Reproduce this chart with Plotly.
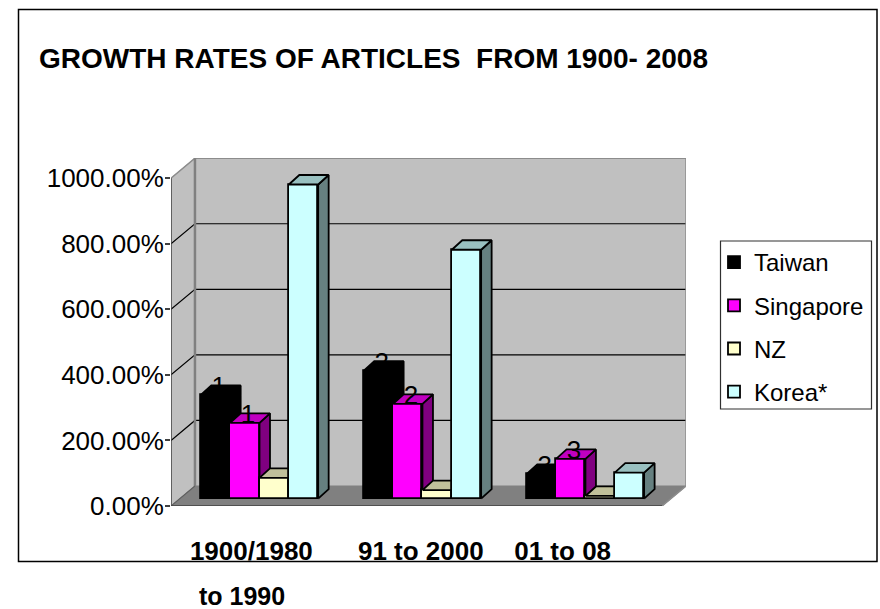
import plotly.graph_objects as go

# Chart content
TITLE = "GROWTH RATES OF ARTICLES\u00a0 FROM 1900- 2008"
SERIES = ["Taiwan", "Singapore", "NZ", "Korea*"]
PERIODS = [0, 1, 2]
TAIWAN = [316, 390, 75]
SINGAPORE = [231, 289, 121]
NZ = [63, 26, 8]
KOREA = [958, 759, 79]
TAIWAN_LABELS = ["1", "2", "3"]
SINGAPORE_LABELS = ["1", "2", "3"]
PERIOD_LABELS = ["1900/1980", "91 to 2000", "01 to 08"]
PERIOD_LABEL_SHIFT = [-0.05, -0.01, -0.14]
Y_TICKS = [0, 200, 400, 600, 800, 1000]
Y_TICK_LABELS = ["0.00%", "200.00%", "400.00%", "600.00%", "800.00%", "1000.00%"]

# Pseudo-3D geometry, in axis units
X_MIN, X_MAX = -0.543, 2.617
Y_MAX = 1061.5
WALL_DX, WALL_DY = 0.147, 61.0
BAR_DX, BAR_DY = 0.0644, 29.0
BAR_LIFT = 22.6
BAR_W = 0.18
LABEL_DROP = 21

FACES = [
    ("#000000", "#000000", "#000000"),
    ("#FF00FF", "#800080", "#C000C0"),
    ("#FFFFCC", "#808066", "#C0C09A"),
    ("#CCFFFF", "#668080", "#99C0C0"),
]
VALUES = [TAIWAN, SINGAPORE, NZ, KOREA]
FONT = "Liberation Sans, Arial, sans-serif"

W, H = 880, 609
# The right margin stays at zero so the legend never pushes the plot area;
# the axes only use part of the domain instead.
L, R, T, B = 171, 0, 158, 103
AXIS_W = 515


def px(v):
    return (v - L) / (W - L - R)


def py(v):
    return (H - B - v) / (H - T - B)


fig = go.Figure()


def poly(xs, ys, fill, line=None, lw=1, yaxis="y"):
    fig.add_trace(go.Scatter(
        x=xs, y=ys, mode="lines", fill="toself", fillcolor=fill,
        line=dict(color=line or fill, width=lw), yaxis=yaxis,
        showlegend=False, hoverinfo="skip", cliponaxis=False,
    ))


def path(xs, ys, color, lw):
    fig.add_trace(go.Scatter(
        x=xs, y=ys, mode="lines", line=dict(color=color, width=lw),
        showlegend=False, hoverinfo="skip", cliponaxis=False,
    ))


back_l = X_MIN + WALL_DX
top = 1000 + WALL_DY

# Room: side wall, back wall, floor
poly([X_MIN, back_l, back_l, X_MIN, X_MIN], [0, WALL_DY, top, 1000, 0], "#C0C0C0")
poly([back_l, X_MAX, X_MAX, back_l, back_l], [WALL_DY, WALL_DY, top, top, WALL_DY], "#C0C0C0")
poly([X_MIN, back_l, X_MAX, X_MAX - WALL_DX, X_MIN], [0, WALL_DY, WALL_DY, 0, 0], "#808080")

# Gridlines run across both walls
for v in Y_TICKS[1:-1]:
    path([X_MIN, back_l, X_MAX], [v, v + WALL_DY, v + WALL_DY], "#000000", 1.2)

# Wall edges and the front spines
path([X_MIN, back_l, X_MAX, X_MAX, X_MAX - WALL_DX], [1000, top, top, WALL_DY, 0], "#8C8C8C", 1.5)
path([back_l, back_l], [WALL_DY, top], "#808080", 2.5)
path([X_MIN, X_MIN], [0, 1000], "#404040", 1.5)
path([X_MIN, back_l], [0, WALL_DY], "#606060", 1.2)
path([X_MIN, X_MAX - WALL_DX], [0, 0], "#404040", 1.5)

# One overlaid y-axis per series keeps the painter's order of the bars
for i, (name, vals, (front, side, roof)) in enumerate(zip(SERIES, VALUES, FACES)):
    ya = "y%d" % (i + 2)
    offset = (i - 1.5) * BAR_W
    xs = [p + offset for p in PERIODS]
    fig.add_trace(go.Bar(
        x=xs, y=vals, base=BAR_LIFT, width=BAR_W, name=name, yaxis=ya,
        marker=dict(color=front, line=dict(color="#000000", width=1.8)),
        legendgroup=name, hoverinfo="skip", cliponaxis=False,
    ))
    for x, v in zip(xs, vals):
        xl, xr = x - BAR_W / 2, x + BAR_W / 2
        yt = v + BAR_LIFT
        poly([xr, xr + BAR_DX, xr + BAR_DX, xr, xr],
             [BAR_LIFT, BAR_LIFT + BAR_DY, yt + BAR_DY, yt, BAR_LIFT],
             side, "#000000", 1.8, ya)
        poly([xl, xl + BAR_DX, xr + BAR_DX, xr, xl],
             [yt, yt + BAR_DY, yt + BAR_DY, yt, yt],
             roof, "#000000", 1.8, ya)
    if i < 2:
        labels = TAIWAN_LABELS if i == 0 else SINGAPORE_LABELS
        fig.add_trace(go.Scatter(
            x=[x + 0.02 for x in xs], y=[v + BAR_LIFT - LABEL_DROP for v in vals],
            mode="text", text=labels, textposition="top center",
            textfont=dict(family=FONT, size=26, color="#000000"),
            yaxis=ya, showlegend=False, hoverinfo="skip", cliponaxis=False,
        ))

overlay = dict(overlaying="y", range=[0, Y_MAX], visible=False, fixedrange=True)

fig.update_layout(
    width=W, height=H, autosize=False,
    margin=dict(l=L, r=R, t=T, b=B, pad=0),
    paper_bgcolor="white", plot_bgcolor="white",
    barmode="overlay", bargap=0,
    font=dict(family=FONT, color="#000000"),
    title=dict(
        text="<b>%s</b>" % TITLE, x=39 / W, xanchor="left", xref="container",
        y=1 - 58 / H, yanchor="middle", yref="container",
        font=dict(family=FONT, size=28, color="#000000"),
    ),
    xaxis=dict(
        domain=[0, AXIS_W / (W - L - R)],
        range=[X_MIN, X_MAX], showgrid=False, zeroline=False, showline=False,
        tickmode="array",
        tickvals=[p + s for p, s in zip(PERIODS, PERIOD_LABEL_SHIFT)],
        ticktext=["<b>%s</b>" % t for t in PERIOD_LABELS],
        ticks="", ticklabelstandoff=27, tickangle=0,
        tickfont=dict(family=FONT, size=26, color="#000000"),
    ),
    yaxis=dict(
        range=[0, Y_MAX], showgrid=False, zeroline=False, showline=False,
        tickmode="array", tickvals=Y_TICKS, ticktext=Y_TICK_LABELS,
        ticks="outside", ticklen=5, tickwidth=1.5, tickcolor="#404040",
        ticklabelstandoff=-4,
        tickfont=dict(family=FONT, size=26, color="#000000"),
    ),
    yaxis2=overlay, yaxis3=overlay, yaxis4=overlay, yaxis5=overlay,
    showlegend=True,
    legend=dict(
        x=px(714), xanchor="left", y=py(240), yanchor="top",
        bgcolor="rgba(0,0,0,0)", borderwidth=0,
        font=dict(family=FONT, size=24, color="#000000"),
        traceorder="grouped", tracegroupgap=9, itemclick=False, itemdoubleclick=False,
    ),
    shapes=[
        # Chart frame
        dict(type="rect", xref="paper", yref="paper", x0=px(18.5), x1=px(877),
             y0=py(561.5), y1=py(9.5), line=dict(color="#000000", width=1.5), layer="below"),
        # Legend box
        dict(type="rect", xref="paper", yref="paper", x0=px(720.5), x1=px(871.5),
             y0=py(409), y1=py(241), line=dict(color="#303030", width=1.2),
             fillcolor="white", layer="below"),
    ],
    annotations=[
        dict(text="<b>to 1990</b>", xref="paper", yref="paper", x=px(242), y=py(596),
             xanchor="center", yanchor="middle", showarrow=False,
             font=dict(family=FONT, size=25, color="#000000")),
    ],
)

fig.write_html("out.html", config=dict(displayModeBar=False))
